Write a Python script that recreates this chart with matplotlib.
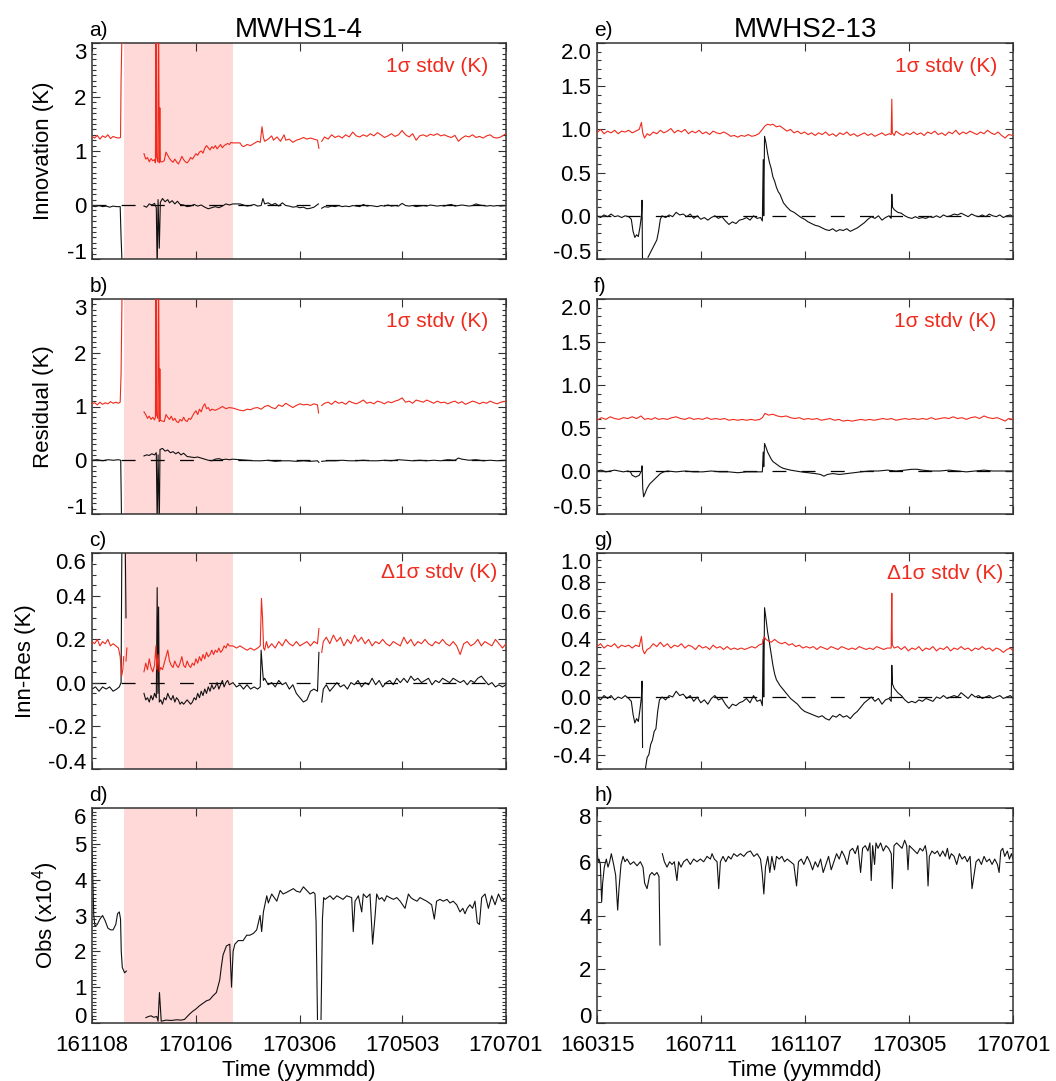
import numpy as np
import matplotlib
matplotlib.use('Agg')
import matplotlib.pyplot as plt
from matplotlib.ticker import MultipleLocator

plt.rcParams['font.family'] = ['Liberation Sans', 'DejaVu Sans']
plt.rcParams['mathtext.fontset'] = 'custom'
plt.rcParams['mathtext.rm'] = 'Liberation Sans'
plt.rcParams['mathtext.it'] = 'Liberation Sans'
plt.rcParams['axes.unicode_minus'] = False
plt.rcParams['lines.scale_dashes'] = False

nan = np.nan
red = '#f02a1c'

# ---------------- MWHS1 channel 4, x = days since 2016-11-08 ----------------
start1 = '2016-11-08'
end1 = '2017-07-01'
tick_dates1 = ['2016-11-08', '2017-01-06', '2017-03-06', '2017-05-03', '2017-07-01']
shade1 = ['2016-11-26', '2017-01-27']

# innovation stdv / mean
inn1_std = np.array([
    [0, 1.27], [1.5, 1.24], [3, 1.29], [4.5, 1.22], [6, 1.28], [7.5, 1.25], [9, 1.30], [10.5, 1.23],
    [12, 1.27], [13.5, 1.25], [15, 1.24], [16.2, 1.25], [16.5, 2.3], [17.2, 3.5], [17.5, nan],
    [29.5, 0.95], [30.5, 0.85], [31.5, 0.88], [32.5, 0.80], [33.5, 0.86], [34.5, 0.82], [35.5, 0.84],
    [36.0, 0.78], [36.3, 3.5], [36.6, 0.90], [37.3, 0.80], [37.8, 3.5], [38.2, 0.78], [38.5, 1.8],
    [38.8, 0.80], [40, 0.80], [41, 0.82], [42, 0.98], [43, 0.92], [44, 0.86], [45, 0.82], [46, 0.79],
    [47, 0.85], [48, 0.80], [49, 0.76], [50, 0.82], [51, 0.90], [52, 0.84], [53, 0.80], [54, 0.78],
    [55, 0.82], [56, 0.88], [57, 0.85], [58, 0.90], [59, 0.95], [60, 0.92], [61, 0.98], [62, 1.00],
    [63, 0.96], [64, 1.05], [65, 1.10], [66, 1.06], [67, 1.02], [68, 1.08], [69, 1.05], [70, 1.10],
    [71, 1.04], [72, 1.08], [73, 1.12], [74, 1.06], [75, 1.10], [76, 1.12], [77, 1.14], [78, 1.12],
    [79, 1.16], [80, 1.15], [84, 1.15], [85, 1.10], [86, 1.08], [88, 1.12], [90, 1.10], [92, 1.14],
    [94, 1.18], [95.5, 1.16], [96.5, 1.45], [97.3, 1.25], [98, 1.18], [100, 1.22], [102, 1.28],
    [103, 1.20], [105, 1.26], [107, 1.18], [109, 1.30], [110, 1.20], [112, 1.22], [114, 1.16],
    [116, 1.20], [118, 1.22], [120, 1.25], [122, 1.22], [124, 1.24], [126, 1.22], [128, 1.20],
    [128.8, 1.05], [129.5, nan], [130.4, 1.18], [132, 1.26], [134, 1.22], [136, 1.30], [138, 1.25],
    [140, 1.28], [142, 1.24], [144, 1.30], [146, 1.26], [148, 1.35], [150, 1.28], [152, 1.26],
    [154, 1.30], [156, 1.27], [158, 1.32], [160, 1.28], [162, 1.34], [164, 1.30], [166, 1.25],
    [168, 1.28], [170, 1.32], [172, 1.27], [174, 1.30], [176, 1.38], [178, 1.30], [180, 1.26],
    [182, 1.32], [184, 1.20], [186, 1.28], [188, 1.30], [190, 1.27], [192, 1.31], [194, 1.29],
    [196, 1.32], [198, 1.28], [200, 1.30], [202, 1.27], [204, 1.25], [206, 1.29], [208, 1.18],
    [210, 1.24], [212, 1.28], [214, 1.26], [216, 1.30], [218, 1.25], [220, 1.27], [222, 1.24],
    [224, 1.28], [226, 1.30], [228, 1.25], [230, 1.24], [232, 1.26], [234, 1.30], [235, 1.32]])

inn1_mean = np.array([
    [0, -0.02], [2, -0.03], [4, -0.01], [6, -0.03], [8, -0.02], [10, -0.04], [12, -0.02], [14, -0.03],
    [16, -0.03], [16.5, -0.6], [17.2, -1.2], [17.5, nan],
    [29.5, -0.02], [31, -0.04], [32.5, 0.02], [34, 0.00], [35.5, 0.03], [36.5, -0.05], [37, -1.2],
    [37.5, 0.10], [38.2, -0.8], [38.8, 0.05], [40, 0.12], [41.5, 0.06], [43, 0.10], [44, 0.04],
    [45.5, 0.08], [47, 0.02], [48.5, 0.07], [50, 0.01], [52, 0.00], [54, -0.03], [56, -0.02],
    [58, 0.01], [60, -0.02], [62, 0.00], [64, -0.04], [66, -0.07], [68, -0.05], [70, -0.03],
    [72, -0.05], [74, -0.02], [76, 0.02], [78, 0.00], [80, 0.02], [84, 0.02], [86, 0.00], [88, -0.02],
    [90, -0.01], [92, 0.01], [94, -0.02], [96, -0.01], [97, 0.12], [98, 0.02], [100, 0.04],
    [102, 0.00], [104, 0.03], [106, -0.02], [108, 0.04], [110, -0.01], [112, -0.02], [114, -0.04],
    [116, -0.03], [118, -0.05], [120, -0.04], [122, -0.07], [124, -0.06], [126, -0.04],
    [128.5, 0.02], [129, nan], [130.4, -0.06], [132, -0.03], [134, -0.04], [136, -0.02],
    [138, -0.03], [140, -0.01], [142, -0.03], [144, -0.02], [146, -0.03], [148, -0.01], [150, -0.02],
    [152, -0.03], [154, 0.01], [156, -0.02], [158, -0.01], [160, -0.02], [162, -0.03], [164, -0.01],
    [166, -0.02], [168, 0.00], [170, -0.02], [172, -0.01], [174, -0.02], [176, 0.03], [178, -0.01],
    [180, -0.02], [182, -0.01], [184, -0.03], [186, -0.02], [188, -0.01], [190, -0.02], [192, 0.00],
    [194, -0.01], [196, -0.02], [198, -0.01], [200, -0.02], [202, 0.00], [204, 0.01], [206, -0.02],
    [208, -0.01], [210, 0.00], [212, -0.01], [214, -0.02], [216, -0.01], [218, 0.02], [220, 0.00],
    [222, -0.01], [224, -0.02], [226, -0.01], [228, -0.02], [230, -0.01], [232, -0.02], [235, -0.01]])

# residual stdv / mean
res1_std = np.array([
    [0, 1.05], [1.5, 1.07], [3, 1.03], [4.5, 1.08], [6, 1.04], [7.5, 1.07], [9, 1.05], [10.5, 1.09],
    [12, 1.06], [13.5, 1.08], [15, 1.06], [16, 1.08], [16.5, 1.6], [17.2, 3.5], [17.5, nan],
    [29.5, 0.90], [30.5, 0.85], [31.5, 0.78], [32.5, 0.82], [33.5, 0.76], [34.5, 0.80], [35.5, 0.75],
    [36.0, 0.80], [36.3, 3.5], [36.6, 0.85], [37.3, 0.78], [37.8, 3.5], [38.2, 0.72], [38.5, 1.7],
    [38.8, 0.74], [40, 0.73], [41, 0.72], [42, 0.85], [43, 0.80], [44, 0.76], [45, 0.82], [46, 0.74],
    [47, 0.78], [48, 0.72], [49, 0.70], [50, 0.76], [51, 0.73], [52, 0.80], [53, 0.74], [54, 0.72],
    [55, 0.78], [56, 0.76], [57, 0.82], [58, 0.88], [59, 0.92], [60, 0.85], [61, 0.95], [62, 0.90],
    [63, 1.00], [64, 1.05], [65, 0.96], [66, 0.98], [67, 0.92], [68, 0.95], [70, 0.93], [72, 0.96],
    [74, 1.00], [76, 0.96], [78, 0.98], [80, 0.97], [82, 0.95], [84, 0.93], [86, 0.92], [88, 0.95],
    [90, 0.94], [92, 0.97], [94, 0.98], [96, 0.95], [98, 1.00], [100, 1.02], [102, 0.98], [104, 0.96],
    [106, 1.03], [108, 1.00], [110, 1.06], [112, 1.02], [114, 0.98], [116, 1.02], [118, 1.05],
    [120, 1.03], [122, 1.04], [124, 1.02], [126, 1.05], [128, 1.03], [128.6, 0.88], [129, nan],
    [130.4, 1.02], [132, 1.06], [134, 1.08], [136, 1.04], [138, 1.10], [140, 1.06], [142, 1.08],
    [144, 1.04], [146, 1.10], [148, 1.07], [150, 1.05], [152, 1.08], [154, 1.12], [156, 1.06],
    [158, 1.08], [160, 1.05], [162, 1.10], [164, 1.08], [166, 1.05], [168, 1.09], [170, 1.07],
    [172, 1.10], [174, 1.12], [176, 1.16], [178, 1.08], [180, 1.10], [182, 1.06], [184, 1.12],
    [186, 1.10], [188, 1.08], [190, 1.12], [192, 1.09], [194, 1.06], [196, 1.10], [198, 1.07],
    [200, 1.08], [202, 1.05], [204, 1.08], [206, 1.10], [208, 1.06], [210, 1.09], [212, 1.04],
    [214, 1.07], [216, 1.10], [218, 1.08], [220, 1.05], [222, 1.08], [224, 1.06], [226, 1.10],
    [228, 1.07], [230, 1.05], [232, 1.08], [235, 1.10]])

res1_mean = np.array([
    [0, 0.00], [3, 0.01], [6, -0.01], [9, 0.01], [12, 0.00], [15, 0.01], [16.3, 0.00], [16.8, -1.2],
    [17.2, nan],
    [29.5, 0.08], [31, 0.10], [32.5, 0.09], [34, 0.12], [35.5, 0.10], [36.5, 0.14], [37, -1.2],
    [37.5, 0.10], [38.2, -1.2], [38.6, 0.20], [40, 0.22], [41.5, 0.17], [43, 0.19], [44.5, 0.14],
    [46, 0.16], [47.5, 0.12], [49, 0.15], [50.5, 0.10], [52, 0.13], [54, 0.07], [56, 0.06],
    [58, 0.05], [60, 0.06], [62, 0.04], [64, 0.02], [66, 0.00], [68, -0.01], [70, 0.02], [72, 0.03],
    [74, 0.01], [76, 0.02], [78, 0.01], [80, 0.02], [84, 0.01], [88, 0.00], [92, -0.01], [96, -0.01],
    [100, 0.00], [104, -0.02], [108, -0.01], [112, -0.01], [116, -0.02], [120, -0.01], [124, -0.02],
    [128, -0.01], [128.8, -0.04], [129.5, nan], [130.4, -0.02], [134, -0.01], [138, -0.01],
    [142, 0.00], [146, -0.01], [150, -0.01], [154, 0.00], [158, -0.01], [162, -0.01], [166, 0.00],
    [170, -0.01], [174, 0.01], [178, 0.00], [182, -0.01], [186, 0.00], [190, -0.01], [194, 0.00],
    [198, -0.01], [202, 0.01], [206, 0.00], [208, 0.04], [210, 0.02], [214, 0.00], [218, 0.01],
    [222, -0.01], [226, 0.00], [230, -0.01], [235, 0.00]])

# innovation minus residual
dif1_std = np.array([
    [0, 0.19], [1.5, 0.18], [3, 0.20], [4.5, 0.17], [6, 0.19], [7.5, 0.18], [9, 0.20], [10.5, 0.17],
    [12, 0.18], [13.5, 0.17], [15, 0.16], [16, 0.12], [16.8, 0.03], [17.5, 0.06], [18, 0.12],
    [18.5, nan], [19.3, 0.10], [19.8, 0.16], [20.2, nan],
    [29.5, 0.05], [30.5, 0.09], [31.5, 0.06], [32.5, 0.11], [33.5, 0.07], [34.5, 0.05], [35.5, 0.08],
    [36.3, 0.17], [36.8, 0.06], [37.5, 0.13], [38.2, 0.05], [39, 0.07], [40, 0.06], [41, 0.09],
    [42, 0.12], [43, 0.15], [44, 0.10], [45, 0.08], [46, 0.07], [47, 0.10], [48, 0.08], [49, 0.07],
    [50, 0.09], [51, 0.12], [52, 0.08], [53, 0.07], [54, 0.10], [55, 0.08], [56, 0.07], [57, 0.09],
    [58, 0.08], [59, 0.11], [60, 0.09], [61, 0.12], [62, 0.10], [63, 0.13], [64, 0.11], [65, 0.14],
    [66, 0.12], [67, 0.13], [68, 0.15], [69, 0.13], [70, 0.15], [71, 0.14], [72, 0.16], [73, 0.14],
    [74, 0.15], [75, 0.17], [76, 0.16], [77, 0.18], [78, 0.17], [80, 0.17], [82, 0.16], [84, 0.17],
    [86, 0.16], [88, 0.15], [90, 0.16], [92, 0.15], [94, 0.16], [95.5, 0.17], [96.2, 0.39],
    [96.8, 0.30], [97.4, 0.16], [98, 0.15], [99, 0.19], [100, 0.16], [102, 0.18], [104, 0.16],
    [106, 0.19], [108, 0.17], [110, 0.20], [112, 0.18], [114, 0.17], [116, 0.19], [118, 0.17],
    [120, 0.18], [122, 0.19], [124, 0.17], [126, 0.19], [128, 0.18], [128.8, 0.25], [129.4, nan],
    [130.4, 0.14], [131.3, 0.19], [133, 0.21], [135, 0.18], [137, 0.22], [139, 0.19], [141, 0.21],
    [143, 0.17], [145, 0.20], [147, 0.18], [149, 0.22], [151, 0.19], [153, 0.21], [155, 0.18],
    [157, 0.20], [159, 0.17], [161, 0.19], [163, 0.18], [165, 0.20], [167, 0.18], [169, 0.17],
    [171, 0.19], [173, 0.18], [175, 0.17], [177, 0.21], [179, 0.18], [181, 0.20], [183, 0.17],
    [185, 0.19], [187, 0.18], [189, 0.20], [191, 0.18], [193, 0.17], [195, 0.19], [197, 0.18],
    [199, 0.20], [201, 0.18], [203, 0.17], [205, 0.19], [207, 0.17], [209, 0.13], [211, 0.18],
    [213, 0.19], [215, 0.17], [217, 0.18], [219, 0.20], [221, 0.17], [223, 0.19], [225, 0.18],
    [227, 0.17], [229, 0.20], [231, 0.18], [233, 0.16], [235, 0.18]])

dif1_mean = np.array([
    [0, -0.03], [2, -0.02], [4, -0.04], [6, -0.02], [8, -0.03], [10, -0.02], [12, -0.04], [14, -0.03],
    [15.5, -0.02], [16.5, 0.00], [17.0, 0.70], [18.8, 0.70], [19.3, 0.30], [19.5, nan],
    [29.5, -0.05], [30.5, -0.08], [31.5, -0.07], [32.5, -0.09], [33.5, -0.06], [34.5, -0.08],
    [35.5, -0.05], [36.5, -0.07], [37, 0.44], [37.4, -0.05], [37.8, 0.35], [38.2, -0.09], [39, -0.08],
    [40, -0.10], [41, -0.07], [42, -0.08], [43, -0.05], [44, -0.07], [45, -0.08], [46, -0.06],
    [47, -0.09], [48, -0.07], [49, -0.08], [50, -0.10], [51, -0.09], [52, -0.10], [53, -0.09],
    [54, -0.08], [55, -0.09], [56, -0.10], [57, -0.09], [58, -0.07], [59, -0.08], [60, -0.05],
    [61, -0.07], [62, -0.04], [63, -0.06], [64, -0.03], [65, -0.05], [66, -0.02], [67, -0.04],
    [68, -0.01], [69, -0.03], [70, -0.02], [71, 0.00], [72, -0.03], [73, -0.01], [74, 0.01],
    [75, -0.02], [76, 0.00], [77, 0.01], [78, -0.01], [80, 0.00], [82, -0.02], [84, -0.01],
    [86, -0.03], [88, -0.01], [90, -0.03], [92, -0.02], [94, -0.03], [95.5, -0.02], [96, 0.15],
    [96.6, 0.08], [97.3, 0.01], [98, 0.02], [100, -0.01], [102, 0.00], [104, -0.02], [106, 0.01],
    [108, -0.01], [110, 0.00], [112, -0.03], [114, -0.01], [116, -0.05], [118, -0.07], [120, -0.09],
    [122, -0.08], [124, -0.04], [126, -0.03], [128, -0.04], [128.8, 0.14], [129.3, nan],
    [130.4, -0.09], [131.3, -0.03], [133, -0.01], [135, -0.04], [137, -0.02], [139, 0.00],
    [141, -0.02], [143, -0.01], [145, -0.03], [147, 0.00], [149, -0.01], [151, 0.01], [153, -0.02],
    [155, 0.00], [157, -0.01], [159, 0.02], [161, -0.01], [163, 0.01], [165, -0.02], [167, 0.00],
    [169, 0.01], [171, -0.01], [173, 0.02], [175, 0.00], [177, 0.02], [179, 0.00], [181, 0.03],
    [183, 0.01], [185, 0.02], [187, 0.00], [189, 0.01], [191, 0.02], [193, -0.01], [195, 0.01],
    [197, 0.00], [199, 0.02], [201, 0.01], [203, 0.00], [205, 0.02], [207, 0.01], [209, 0.00],
    [211, 0.01], [213, -0.01], [215, 0.01], [217, 0.00], [219, 0.02], [221, 0.03], [223, 0.01],
    [225, -0.01], [227, 0.00], [229, -0.02], [231, -0.01], [233, -0.02], [235, -0.01]])

# number of observations (x10^4)
obs1 = np.array([
    [0, 4.9], [0.5, 4.0], [1.0, 3.0], [1.7, 2.7], [3, 2.75], [4.5, 2.9], [6, 3.0], [7.5, 2.85],
    [9, 2.65], [10.5, 2.6], [12, 2.6], [13.5, 2.75], [14.5, 3.05], [15.5, 3.1], [16.2, 2.9],
    [16.6, 2.0], [17.2, 1.55], [18.5, 1.4], [19.5, 1.45], [20, nan],
    [30.6, 0.15], [32, 0.18], [33.5, 0.20], [35, 0.16], [36.8, 0.18], [37.5, 0.05], [38.3, 0.85],
    [39.3, 0.05], [42, 0.08], [45, 0.07], [48, 0.09], [50.5, 0.08], [52.5, 0.10], [55.4, 0.25],
    [57, 0.32], [59.2, 0.40], [61, 0.48], [63, 0.55], [65, 0.62], [66.8, 0.65], [68.5, 0.75],
    [70.6, 0.85], [72.5, 1.2], [73.5, 1.6], [74.4, 1.9], [76.3, 2.15], [78.2, 2.2], [79.2, 1.0],
    [80.1, 2.0], [81.1, 2.2], [83, 2.3], [85.8, 2.3], [87.8, 2.45], [89.6, 2.45], [91.6, 2.5],
    [93.5, 2.6], [95.4, 3.0], [96.3, 2.55], [97.3, 3.1], [99.2, 3.55], [100.1, 3.35], [102, 3.6],
    [104.9, 3.4], [106.8, 3.7], [108.5, 3.6], [110.6, 3.65], [112.5, 3.7], [114.3, 3.75],
    [116, 3.68], [118.1, 3.65], [120, 3.8], [121.9, 3.7], [123.8, 3.6], [125.7, 3.65], [126.6, 3.6],
    [127.2, 2.8], [128.0, 0.1], [128.5, nan], [130.0, 0.1], [130.8, 2.9], [131.5, 3.5],
    [132.3, 3.45], [135.1, 3.55], [137, 3.45], [139, 3.55], [140.8, 3.5], [142.5, 3.45],
    [144.6, 3.55], [147.4, 3.5], [148.3, 2.55], [149.3, 3.4], [151.2, 3.55], [153.1, 3.1],
    [154, 3.6], [155.9, 3.5], [157.8, 3.6], [159.3, 2.2], [160.7, 3.0], [161.6, 3.6], [163, 3.45],
    [164.5, 3.5], [166, 3.4], [167.3, 3.55], [169, 3.5], [171.1, 3.45], [173, 3.5], [174.9, 3.4],
    [177.7, 3.2], [179.6, 3.6], [181, 3.5], [182.4, 3.45], [184.5, 3.4], [186.2, 3.5], [188, 3.45],
    [190, 3.4], [192.8, 3.3], [194.3, 2.9], [195.6, 3.4], [197.5, 3.45], [199.4, 3.4],
    [201.5, 3.45], [203.2, 3.35], [205, 3.4], [207, 3.3], [208.9, 3.1], [210.5, 3.2], [211.7, 3.05],
    [213, 3.2], [214.5, 3.3], [216, 3.2], [217.4, 3.4], [218.7, 2.8], [219.9, 2.75], [221.2, 3.5],
    [223.1, 3.6], [225, 3.2], [226.9, 3.55], [228.8, 3.3], [230.7, 3.6], [232.6, 3.4], [235, 3.5]])

# ---------------- MWHS2 channel 13, x = days since 2016-03-15 ----------------
start2 = '2016-03-15'
end2 = '2017-07-01'
tick_dates2 = ['2016-03-15', '2016-07-11', '2016-11-07', '2017-03-05', '2017-07-01']

inn2_std = np.array([
    [0, 0.96], [4, 1.00], [8, 0.95], [12, 0.98], [16, 0.96], [20, 0.99], [24, 0.95], [28, 0.98],
    [32, 0.97], [36, 0.99], [40, 0.96], [44, 0.98], [48, 1.00], [50.5, 1.08], [52, 0.96], [54, 0.90],
    [57, 0.95], [60, 0.93], [64, 0.97], [68, 0.95], [72, 0.99], [76, 0.96], [80, 0.98], [84, 1.01],
    [88, 0.96], [92, 0.99], [96, 0.97], [100, 1.00], [104, 0.95], [108, 0.98], [112, 0.96],
    [116, 0.99], [120, 0.95], [124, 0.97], [128, 0.94], [132, 0.98], [136, 0.96], [140, 0.95],
    [144, 0.97], [148, 0.95], [152, 0.92], [156, 0.93], [160, 0.91], [164, 0.93], [168, 0.92],
    [172, 0.94], [176, 0.92], [180, 0.93], [184, 0.95], [188, 1.00], [191, 1.04], [194, 1.06],
    [197, 1.05], [200, 1.06], [204, 1.03], [208, 1.04], [212, 1.01], [216, 0.98], [220, 1.00],
    [224, 0.96], [228, 0.98], [232, 0.95], [236, 0.97], [240, 0.94], [244, 0.96], [248, 0.93],
    [252, 0.96], [256, 0.94], [260, 0.97], [264, 0.93], [268, 0.95], [272, 0.92], [276, 0.96],
    [280, 0.94], [284, 0.97], [288, 0.93], [292, 0.95], [296, 0.92], [300, 0.94], [304, 0.96],
    [308, 0.93], [312, 0.95], [316, 0.92], [320, 0.94], [324, 0.96], [328, 0.93], [332, 0.95],
    [334.5, 0.94], [335.2, 1.35], [335.8, 0.96], [338, 0.93], [340, 0.98], [344, 0.95], [348, 0.93],
    [352, 0.96], [356, 0.94], [360, 0.97], [364, 0.94], [368, 0.96], [372, 0.93], [376, 0.97],
    [380, 0.95], [384, 0.98], [388, 0.94], [392, 0.96], [396, 0.93], [400, 0.97], [404, 0.95],
    [408, 0.99], [412, 0.94], [416, 0.97], [420, 0.95], [424, 0.98], [428, 0.96], [432, 0.94],
    [436, 0.97], [440, 0.95], [444, 0.99], [448, 0.96], [452, 0.94], [456, 0.97], [460, 0.93],
    [464, 0.90], [468, 0.94], [473, 0.93]])

inn2_mean = np.array([
    [0, 0.00], [4, -0.02], [8, 0.01], [12, -0.01], [16, 0.02], [20, -0.01], [24, 0.00], [28, -0.02],
    [32, 0.00], [36, -0.01], [39, -0.04], [41, -0.18], [43, -0.25], [45, -0.22], [47, -0.24],
    [49, -0.12], [50.5, 0.00], [51.2, 0.18], [51.8, -0.6], [52.5, nan],
    [58, -0.48], [60, -0.44], [62, -0.40], [64, -0.36], [66, -0.32], [68, -0.28], [70, -0.18],
    [72, -0.04], [74, 0.00], [78, -0.02], [82, 0.01], [86, -0.01], [90, 0.04], [94, 0.01],
    [98, 0.02], [102, -0.01], [106, 0.02], [110, -0.03], [114, 0.00], [118, -0.04], [122, -0.02],
    [126, -0.05], [130, -0.02], [134, 0.00], [138, -0.03], [142, -0.01], [146, -0.06], [150, -0.10],
    [154, -0.07], [158, -0.09], [162, -0.05], [166, -0.04], [170, -0.02], [174, -0.05], [178, 0.00],
    [182, -0.03], [186, -0.02], [188, -0.06], [189, 0.65], [189.6, 0.00], [190.5, 0.92],
    [192, 0.85], [194, 0.72], [196, 0.62], [198, 0.55], [200, 0.45], [202, 0.40], [204, 0.33],
    [206, 0.28], [208, 0.25], [210, 0.20], [212, 0.15], [216, 0.10], [220, 0.06], [224, 0.04],
    [228, 0.01], [232, -0.02], [236, -0.04], [240, -0.07], [244, -0.09], [248, -0.11], [252, -0.12],
    [256, -0.14], [260, -0.16], [264, -0.17], [268, -0.15], [272, -0.18], [276, -0.16],
    [280, -0.17], [284, -0.15], [288, -0.18], [292, -0.16], [296, -0.14], [300, -0.11],
    [304, -0.08], [308, -0.04], [312, -0.01], [316, -0.03], [320, 0.00], [324, -0.05], [328, -0.02],
    [332, 0.00], [334.5, -0.03], [335.2, 0.25], [336, 0.10], [338, 0.07], [342, 0.04], [346, 0.03],
    [350, 0.00], [354, -0.02], [358, -0.03], [362, -0.01], [366, -0.03], [370, -0.02], [374, -0.03],
    [378, -0.01], [382, -0.02], [386, 0.00], [390, -0.02], [394, 0.01], [398, -0.01], [402, 0.00],
    [406, 0.02], [410, 0.01], [414, 0.03], [418, 0.01], [422, -0.01], [426, 0.02], [430, 0.00],
    [434, -0.01], [438, 0.01], [442, -0.01], [446, 0.02], [450, 0.00], [454, -0.01], [458, 0.01],
    [462, -0.02], [466, 0.00], [470, 0.01], [473, -0.01]])

res2_std = np.array([
    [0, 0.59], [5, 0.62], [10, 0.60], [15, 0.63], [20, 0.61], [25, 0.60], [30, 0.62], [35, 0.61],
    [40, 0.63], [45, 0.61], [50, 0.64], [54, 0.60], [58, 0.61], [62, 0.60], [66, 0.62], [70, 0.60],
    [75, 0.61], [80, 0.60], [85, 0.62], [90, 0.63], [95, 0.61], [100, 0.60], [105, 0.62],
    [110, 0.60], [115, 0.61], [120, 0.60], [125, 0.62], [130, 0.60], [135, 0.61], [140, 0.60],
    [145, 0.61], [150, 0.59], [155, 0.60], [160, 0.59], [165, 0.60], [170, 0.59], [175, 0.60],
    [180, 0.59], [185, 0.60], [188, 0.62], [191, 0.67], [195, 0.65], [200, 0.66], [205, 0.64],
    [210, 0.63], [215, 0.64], [220, 0.62], [225, 0.61], [230, 0.62], [235, 0.60], [240, 0.61],
    [245, 0.60], [250, 0.61], [255, 0.59], [260, 0.60], [265, 0.61], [270, 0.59], [275, 0.60],
    [280, 0.58], [285, 0.59], [290, 0.58], [295, 0.59], [300, 0.60], [305, 0.59], [310, 0.60],
    [315, 0.59], [320, 0.60], [325, 0.61], [330, 0.60], [335, 0.61], [340, 0.59], [345, 0.60],
    [350, 0.61], [355, 0.60], [360, 0.61], [365, 0.60], [370, 0.61], [375, 0.60], [380, 0.62],
    [385, 0.60], [390, 0.61], [395, 0.62], [400, 0.61], [405, 0.63], [410, 0.61], [415, 0.62],
    [420, 0.60], [425, 0.62], [430, 0.63], [435, 0.61], [440, 0.64], [445, 0.62], [450, 0.61],
    [455, 0.62], [460, 0.60], [464, 0.58], [468, 0.61], [473, 0.60]])

res2_mean = np.array([
    [0, 0.00], [5, 0.01], [10, -0.01], [15, 0.00], [20, 0.01], [25, 0.00], [30, -0.01], [35, 0.00],
    [38, -0.01], [40, -0.05], [44, -0.07], [48, -0.05], [50.5, 0.00], [51.3, 0.06], [52, -0.20],
    [53, -0.30], [55, -0.25], [57, -0.20], [60, -0.15], [64, -0.11], [68, -0.07], [72, -0.03],
    [76, -0.01], [80, 0.00], [90, -0.01], [100, 0.00], [110, -0.01], [120, -0.01], [130, 0.00],
    [140, -0.01], [150, -0.01], [160, -0.02], [170, -0.01], [180, -0.01], [188, -0.01], [189, 0.22],
    [189.6, 0.05], [190.5, 0.32], [192, 0.28], [194, 0.22], [196, 0.18], [198, 0.14], [200, 0.11],
    [204, 0.08], [208, 0.05], [212, 0.03], [216, 0.02], [220, 0.01], [226, 0.00], [232, -0.01],
    [240, -0.02], [248, -0.03], [254, -0.04], [258, -0.06], [262, -0.04], [268, -0.03],
    [276, -0.04], [284, -0.03], [292, -0.02], [300, -0.01], [310, 0.00], [320, 0.00], [330, 0.01],
    [340, 0.00], [350, 0.01], [358, 0.02], [364, 0.02], [370, 0.01], [380, 0.00], [390, 0.00],
    [400, 0.01], [410, 0.00], [420, -0.01], [430, 0.00], [440, 0.01], [450, 0.00], [460, 0.00],
    [473, 0.00]])

dif2_std = np.array([
    [0, 0.35], [4, 0.37], [8, 0.34], [12, 0.36], [16, 0.35], [20, 0.37], [24, 0.34], [28, 0.36],
    [32, 0.35], [36, 0.36], [40, 0.34], [44, 0.36], [48, 0.35], [50.5, 0.42], [52, 0.33],
    [54, 0.30], [57, 0.33], [60, 0.34], [64, 0.37], [68, 0.35], [72, 0.38], [76, 0.35], [80, 0.37],
    [84, 0.34], [88, 0.36], [92, 0.35], [96, 0.37], [100, 0.34], [104, 0.36], [108, 0.35],
    [112, 0.33], [116, 0.36], [120, 0.34], [124, 0.35], [128, 0.33], [132, 0.36], [136, 0.34],
    [140, 0.35], [144, 0.33], [148, 0.35], [152, 0.33], [156, 0.34], [160, 0.33], [164, 0.34],
    [168, 0.33], [172, 0.34], [176, 0.35], [180, 0.34], [184, 0.36], [188, 0.37], [190, 0.42],
    [192, 0.40], [195, 0.39], [198, 0.38], [202, 0.40], [206, 0.38], [210, 0.37], [214, 0.38],
    [218, 0.36], [222, 0.37], [226, 0.35], [230, 0.36], [234, 0.34], [238, 0.35], [242, 0.34],
    [246, 0.35], [250, 0.33], [254, 0.35], [258, 0.34], [262, 0.33], [266, 0.35], [270, 0.34],
    [274, 0.33], [278, 0.35], [282, 0.34], [286, 0.33], [290, 0.34], [294, 0.33], [298, 0.35],
    [302, 0.34], [306, 0.33], [310, 0.34], [314, 0.33], [318, 0.35], [322, 0.34], [326, 0.33],
    [330, 0.34], [334.5, 0.34], [335.2, 0.72], [335.8, 0.36], [338, 0.34], [342, 0.35], [346, 0.33],
    [350, 0.35], [354, 0.32], [358, 0.34], [362, 0.33], [366, 0.35], [370, 0.32], [374, 0.34],
    [378, 0.33], [382, 0.35], [386, 0.32], [390, 0.34], [394, 0.33], [398, 0.35], [402, 0.32],
    [406, 0.34], [410, 0.33], [414, 0.35], [418, 0.33], [422, 0.34], [426, 0.32], [430, 0.34],
    [434, 0.33], [438, 0.35], [442, 0.33], [446, 0.34], [450, 0.32], [454, 0.34], [458, 0.33],
    [462, 0.31], [466, 0.33], [470, 0.34], [473, 0.32]])

dif2_mean = np.array([
    [0, 0.00], [4, -0.02], [8, 0.01], [12, -0.01], [16, 0.01], [20, -0.02], [24, 0.00], [28, -0.01],
    [32, 0.01], [36, -0.01], [39, -0.03], [41, -0.12], [43, -0.18], [45, -0.15], [47, -0.17],
    [49, -0.08], [50.5, 0.00], [51.2, 0.11], [51.8, -0.35], [52.5, nan],
    [55, -0.50], [57, -0.42], [59, -0.40], [61, -0.33], [63, -0.30], [65, -0.24], [67, -0.22],
    [69, -0.10], [71, -0.02], [74, 0.00], [78, -0.02], [82, 0.01], [86, 0.00], [90, 0.04],
    [94, 0.01], [98, 0.02], [102, -0.01], [106, 0.01], [110, -0.03], [114, 0.00], [118, -0.04],
    [122, -0.02], [126, -0.05], [130, -0.01], [134, 0.01], [138, -0.02], [142, -0.01], [146, -0.05],
    [150, -0.08], [154, -0.05], [158, -0.06], [162, -0.04], [166, -0.03], [170, -0.01],
    [174, -0.04], [178, 0.01], [182, -0.03], [186, -0.02], [188, -0.06], [189, 0.40], [189.6, 0.00],
    [190.5, 0.62], [192, 0.55], [194, 0.45], [196, 0.38], [198, 0.30], [200, 0.22], [202, 0.16],
    [204, 0.12], [206, 0.10], [208, 0.08], [212, 0.05], [216, 0.02], [220, -0.01], [224, -0.03],
    [228, -0.05], [232, -0.08], [236, -0.10], [240, -0.11], [244, -0.12], [248, -0.13],
    [252, -0.14], [256, -0.13], [260, -0.15], [264, -0.16], [268, -0.13], [272, -0.14],
    [276, -0.12], [280, -0.14], [284, -0.13], [288, -0.15], [292, -0.12], [296, -0.10],
    [300, -0.07], [304, -0.04], [308, -0.02], [312, 0.00], [316, -0.03], [320, -0.01], [324, -0.05],
    [328, -0.02], [332, -0.01], [334.5, -0.03], [335.2, 0.22], [336, 0.09], [338, 0.06], [342, 0.03],
    [346, 0.01], [350, -0.02], [354, -0.04], [358, -0.03], [362, -0.04], [366, -0.02], [370, -0.03],
    [374, -0.01], [378, -0.02], [382, -0.03], [386, 0.00], [390, -0.01], [394, 0.01], [398, -0.01],
    [402, 0.00], [406, 0.01], [410, 0.00], [414, 0.03], [418, 0.01], [422, -0.01], [426, 0.02],
    [430, 0.00], [434, 0.01], [438, -0.01], [442, 0.00], [446, 0.01], [450, -0.01], [454, 0.00],
    [458, 0.01], [462, -0.01], [466, 0.00], [470, 0.01], [473, -0.01]])

obs2 = np.array([
    [0, 6.5], [1.1, 6.0], [2.3, 6.1], [3.8, 5.9], [5.3, 4.5], [6.4, 5.2], [8.3, 5.8], [10.6, 6.1],
    [12.5, 5.8], [14.4, 6.0], [16.3, 6.3], [18.9, 5.9], [21.2, 5.5], [23.5, 4.2], [25, 5.0],
    [27.3, 5.9], [29.6, 6.2], [31.8, 6.0], [34.1, 6.1], [37.9, 5.9], [41.7, 6.0], [45.5, 5.85],
    [49.3, 6.0], [52.3, 5.8], [54.2, 5.2], [56.9, 5.0], [59.9, 5.5], [62.5, 5.6], [65.2, 5.5],
    [68.2, 5.6], [70.5, 5.45], [71.6, 2.9], [72.2, nan], [74.3, 6.3], [76.6, 6.0], [79.6, 5.8],
    [82.6, 6.0], [85.3, 5.9], [87.9, 6.0], [90.9, 5.3], [92.8, 6.0], [95.5, 5.8], [98.5, 6.0],
    [102.3, 6.1], [106.1, 5.9], [109.9, 6.1], [113.7, 6.0], [117.5, 6.1], [121.3, 6.0],
    [125.1, 6.2], [128.9, 6.1], [130.8, 6.3], [133.4, 6.1], [136.5, 6.0], [138.4, 5.0],
    [140.3, 6.0], [143.3, 6.2], [146.4, 6.0], [149.4, 6.2], [152.4, 6.1], [155.5, 6.3],
    [159.3, 6.2], [163.1, 6.3], [166.9, 6.2], [170.7, 6.35], [174.5, 6.4], [178.3, 6.2],
    [182.1, 6.3], [185.9, 6.1], [187.8, 5.6], [189.7, 4.8], [191.6, 5.8], [194.2, 6.2],
    [196.5, 5.6], [198.8, 6.2], [201.8, 5.7], [204.1, 6.2], [207.1, 6.1], [210.2, 6.2],
    [213.2, 6.0], [216.3, 6.1], [220.1, 6.0], [223.8, 5.9], [226.9, 5.1], [229.1, 6.0],
    [232.2, 6.1], [235.2, 5.9], [239, 6.2], [242, 6.0], [245.1, 5.7], [248.1, 6.0], [251.1, 5.8],
    [254.2, 6.1], [257.2, 5.6], [260.2, 5.9], [263.3, 6.2], [266.3, 5.7], [269.3, 6.0],
    [272.4, 6.3], [275.4, 6.1], [278.4, 6.4], [281.5, 6.2], [284.5, 5.9], [287.5, 6.4],
    [290.6, 6.5], [293.6, 6.3], [296.6, 6.6], [299.7, 5.6], [302, 6.5], [305, 6.6], [308, 6.4],
    [310.3, 6.7], [311.8, 5.3], [313.4, 6.6], [315.6, 5.9], [317.2, 6.7], [319.5, 6.5],
    [322.5, 6.7], [325.5, 6.4], [328.6, 6.6], [331.6, 6.5], [334.6, 6.3], [335.8, 5.0],
    [337.7, 6.6], [340.7, 6.7], [343.7, 6.6], [346.8, 6.5], [349.8, 6.8], [352.1, 6.6],
    [353.6, 5.7], [355.1, 6.6], [358.2, 6.5], [361.2, 6.4], [364.2, 6.3], [367.3, 6.5],
    [370.3, 6.4], [373.3, 6.6], [374.9, 6.3], [376.4, 5.1], [377.9, 6.2], [380.9, 6.4], [384, 6.3],
    [387, 6.4], [390, 6.2], [393.1, 6.4], [396.1, 6.2], [398.4, 6.5], [400.6, 6.1], [402.9, 6.3],
    [406, 6.2], [409, 5.9], [412, 6.3], [415.1, 6.1], [418.1, 6.2], [421.1, 6.0], [424.2, 6.2],
    [426.4, 5.0], [428.7, 5.5], [431, 6.0], [434, 6.1], [437.1, 5.9], [440.1, 6.2], [443.1, 6.0],
    [446.2, 6.1], [449.2, 5.9], [452.2, 6.1], [455.3, 5.9], [457.2, 5.6], [459.1, 6.4],
    [461.3, 6.5], [463.6, 6.2], [466.6, 6.4], [468.9, 6.1], [471.2, 6.3], [473, 6.1]])


def days_between(a, b):
    return int((np.datetime64(b) - np.datetime64(a)).astype(int))


def yymmdd(d):
    return d[2:4] + d[5:7] + d[8:10]


# figure geometry in pixels (top, bottom) of each row
W, H = 1056, 1081
rows_px = [(43, 259), (299, 514), (553, 769), (808, 1023)]
cols_px = [(92, 506), (597, 1013)]


def make_axes(fig, col, row):
    x0, x1 = cols_px[col]
    t, b = rows_px[row]
    return fig.add_axes([x0 / W, 1 - b / H, (x1 - x0) / W, (b - t) / H])


def style_axes(ax, xmax, xticks, xlabels, ylim, yticks, ylabels, minor, bottom_row):
    ax.set_xlim(0, xmax)
    ax.set_ylim(*ylim)
    ax.set_xticks(xticks)
    if bottom_row:
        ax.set_xticklabels(xlabels)
        ax.set_xlabel('Time (yymmdd)', fontsize=16, labelpad=3)
    else:
        ax.set_xticklabels([])
    ax.set_yticks(yticks)
    ax.set_yticklabels(ylabels)
    ax.yaxis.set_minor_locator(MultipleLocator(minor))
    ax.tick_params(which='both', direction='in', top=True, right=True,
                   color='#333333', width=0.8, labelsize=16)
    ax.tick_params(which='major', length=6)
    ax.tick_params(which='minor', length=3)
    ax.tick_params(axis='y', pad=4)
    ax.tick_params(axis='x', pad=8.5)
    for s in ax.spines.values():
        s.set_color('#333333')
        s.set_linewidth(1.1)
    # labels sitting on the frame edge are pushed inside, like the IDL plot
    for val, lab in zip(yticks, ax.get_yticklabels()):
        if abs(val - ylim[1]) < 1e-6:
            lab.set_verticalalignment('top')
        elif abs(val - ylim[0]) < 1e-6:
            lab.set_verticalalignment('baseline')


def panel_tag(ax, tag):
    ax.annotate(tag, xy=(0, 1), xycoords='axes fraction', xytext=(-2, 5),
                textcoords='offset points', ha='left', va='baseline', fontsize=15)


def red_note(ax, text, dx, dy):
    ax.annotate(text, xy=(1, 1), xycoords='axes fraction', xytext=(dx, dy),
                textcoords='offset points', ha='right', va='center', color=red, fontsize=15)


def plot_pair(ax, std, mean):
    ax.axhline(0, color='k', lw=0.9, dashes=(10, 11), zorder=1)
    ax.plot(mean[:, 0], mean[:, 1], color='#111111', lw=0.8, zorder=2)
    ax.plot(std[:, 0], std[:, 1], color=red, lw=0.8, zorder=3)


fig = plt.figure(figsize=(W / 100, H / 100), dpi=100)

# ---- left column: MWHS1-4 ----
xmax1 = days_between(start1, end1)
xt1 = [days_between(start1, d) for d in tick_dates1]
xl1 = [yymmdd(d) for d in tick_dates1]
sh0, sh1 = days_between(start1, shade1[0]), days_between(start1, shade1[1])

left_panels = [
    ('a)', inn1_std, inn1_mean, (-1, 3), [-1, 0, 1, 2, 3], ['-1', '0', '1', '2', '3'], 0.1,
     'Innovation (K)', '1σ stdv (K)', (-13, -17)),
    ('b)', res1_std, res1_mean, (-1, 3), [-1, 0, 1, 2, 3], ['-1', '0', '1', '2', '3'], 0.1,
     'Residual (K)', '1σ stdv (K)', (-13, -16.5)),
    ('c)', dif1_std, dif1_mean, (-0.4, 0.6), [-0.4, -0.2, 0.0, 0.2, 0.4, 0.6],
     ['-0.4', '-0.2', '0.0', '0.2', '0.4', '0.6'], 0.05, 'Inn-Res (K)', 'Δ1σ stdv (K)', (-6.5, -14)),
]

for row, (tag, std, mean, ylim, yt, yl, mn, ylab, note, off) in enumerate(left_panels):
    ax = make_axes(fig, 0, row)
    ax.axvspan(sh0, sh1, color='#ffd8d8', lw=0, zorder=0)
    plot_pair(ax, std, mean)
    style_axes(ax, xmax1, xt1, xl1, ylim, yt, yl, mn, False)
    ax.set_ylabel(ylab, fontsize=16, labelpad=9)
    panel_tag(ax, tag)
    red_note(ax, note, *off)
    if row == 0:
        ax.set_title('MWHS1-4', fontsize=20, pad=4)

ax = make_axes(fig, 0, 3)
ax.axvspan(sh0, sh1, color='#ffd8d8', lw=0, zorder=0)
ax.plot(obs1[:, 0], obs1[:, 1], color='#111111', lw=0.8, zorder=2)
style_axes(ax, xmax1, xt1, xl1, (0, 6), [0, 1, 2, 3, 4, 5, 6],
           ['0', '1', '2', '3', '4', '5', '6'], 0.1, True)
ax.set_ylabel('Obs (x10$^{4}$)', fontsize=16, labelpad=9)
panel_tag(ax, 'd)')

# ---- right column: MWHS2-13 ----
xmax2 = days_between(start2, end2)
xt2 = [days_between(start2, d) for d in tick_dates2]
xl2 = [yymmdd(d) for d in tick_dates2]

right_panels = [
    ('e)', inn2_std, inn2_mean, (-0.5, 2.0), [-0.5, 0.0, 0.5, 1.0, 1.5, 2.0],
     ['-0.5', '0.0', '0.5', '1.0', '1.5', '2.0'], 0.1, '1σ stdv (K)', (-11.5, -17)),
    ('f)', res2_std, res2_mean, (-0.5, 2.0), [-0.5, 0.0, 0.5, 1.0, 1.5, 2.0],
     ['-0.5', '0.0', '0.5', '1.0', '1.5', '2.0'], 0.1, '1σ stdv (K)', (-12, -16.5)),
    ('g)', dif2_std, dif2_mean, (-0.5, 1.0), [-0.4, -0.2, 0.0, 0.2, 0.4, 0.6, 0.8, 1.0],
     ['-0.4', '-0.2', '0.0', '0.2', '0.4', '0.6', '0.8', '1.0'], 0.05, 'Δ1σ stdv (K)', (-7, -14.5)),
]

for row, (tag, std, mean, ylim, yt, yl, mn, note, off) in enumerate(right_panels):
    ax = make_axes(fig, 1, row)
    plot_pair(ax, std, mean)
    style_axes(ax, xmax2, xt2, xl2, ylim, yt, yl, mn, False)
    panel_tag(ax, tag)
    red_note(ax, note, *off)
    if row == 0:
        ax.set_title('MWHS2-13', fontsize=20, pad=4)

ax = make_axes(fig, 1, 3)
ax.plot(obs2[:, 0], obs2[:, 1], color='#111111', lw=0.8, zorder=2)
style_axes(ax, xmax2, xt2, xl2, (0, 8), [0, 2, 4, 6, 8], ['0', '2', '4', '6', '8'], 0.5, True)
panel_tag(ax, 'h)')

fig.savefig('out.png', dpi=100)
